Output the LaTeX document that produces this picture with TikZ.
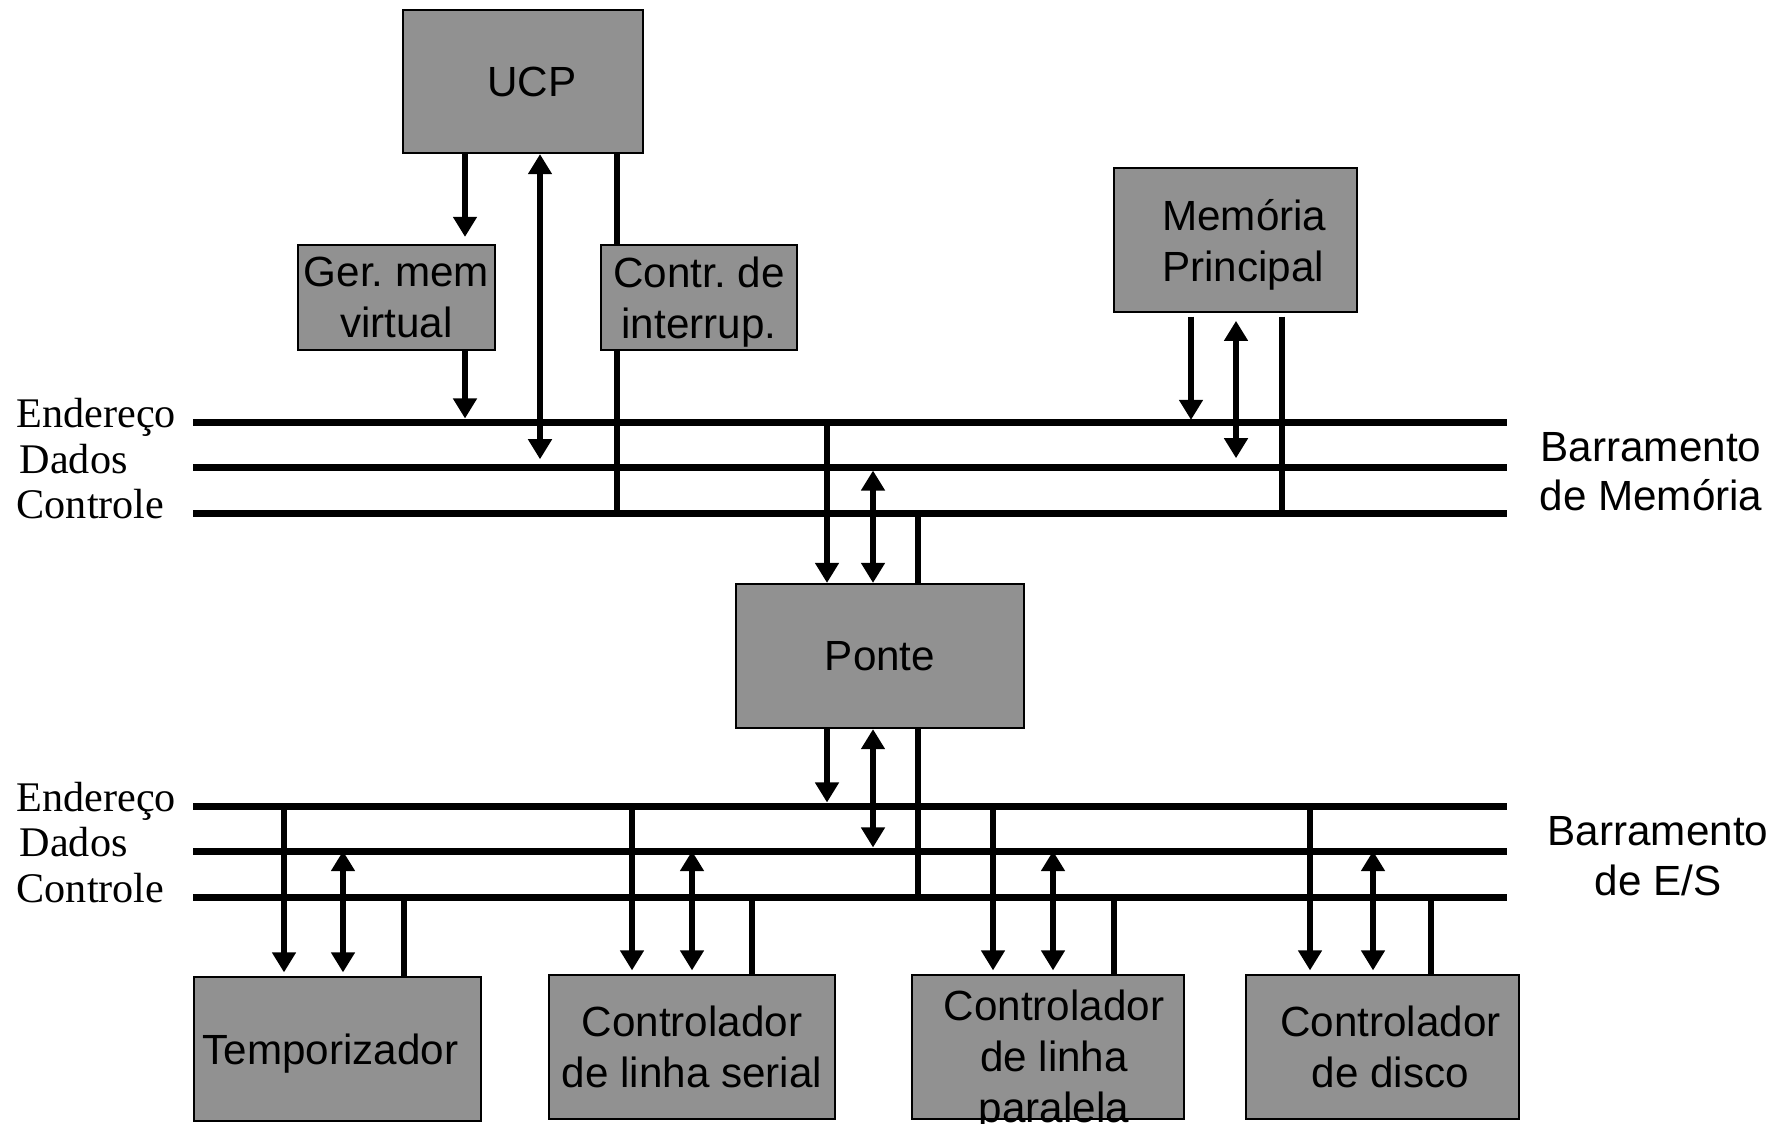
\documentclass[tikz,border=0pt]{standalone}
\usepackage{fontspec}
\setmainfont{Liberation Sans}
\newfontfamily\busfont{Liberation Serif}
\usepackage{tikz}
\usetikzlibrary{arrows.meta,positioning}
\definecolor{boxgray}{RGB}{145,145,145}
\frenchspacing

\begin{document}
\begin{tikzpicture}[x=0.01cm, y=-0.01cm,
    pc block/.style={draw, line width=0.6pt, fill=boxgray, rectangle, inner sep=0pt, text depth=0pt, align=center, font=\fontsize{12}{14.5}\selectfont},
    bus line/.style={line width=2pt},
    sig/.style={line width=1.6pt},
    bus label/.style={anchor=base west, inner sep=0pt, font=\busfont\fontsize{12}{14.5}\selectfont},
    bus name/.style={anchor=north, inner sep=0pt, align=center, font=\fontsize{12}{14}\selectfont},
    >={Triangle[length=5.7pt,width=6.5pt]}]

    \useasboundingbox (0,0) rectangle (1792,1123);

    % blocks
    \node[pc block, minimum width=2.4cm, minimum height=1.43cm] (ucp) at (523,81.5) {\hspace*{5pt}UCP};
    \node[pc block, minimum width=1.97cm, minimum height=1.05cm] (ger) at (396.5,297.5) {Ger. mem\\virtual};
    \node[pc block, minimum width=1.96cm, minimum height=1.05cm] (intr) at (699,297.5) {Contr. de\\interrup.};
    \node[pc block, minimum width=2.43cm, minimum height=1.44cm, align=left] (mem) at (1235.5,240) {\hspace*{5pt}Memória\\\hspace*{5pt}Principal};
    \node[pc block, minimum width=2.88cm, minimum height=1.44cm] (ponte) at (880,656) {Ponte};
    \node[pc block, minimum width=2.87cm, minimum height=1.44cm] (temp) at (337.5,1049) {Temporizador\hspace*{4pt}};
    \node[pc block, minimum width=2.86cm, minimum height=1.44cm] (serial) at (692,1047) {Controlador\\de linha serial};
    \node[pc block, minimum width=2.72cm, minimum height=1.44cm] (par) at (1048,1047) {};
    \node[anchor=north, inner sep=0pt, align=center, font=\fontsize{12}{14.5}\selectfont] (partxt) at (1054,989) {Controlador\\de linha\\paralela};
    \node[pc block, minimum width=2.73cm, minimum height=1.44cm] (disco) at (1382.5,1047) {\hspace*{4.5pt}Controlador\\\hspace*{4.5pt}de disco};

    % buses
    \coordinate (mA) at (193,422);  \coordinate (mAend) at (1507,422);
    \coordinate (mD) at (193,467);  \coordinate (mDend) at (1507,467);
    \coordinate (mC) at (193,513);  \coordinate (mCend) at (1507,513);
    \coordinate (iA) at (193,806);  \coordinate (iAend) at (1507,806);
    \coordinate (iD) at (193,851);  \coordinate (iDend) at (1507,851);
    \coordinate (iC) at (193,897);  \coordinate (iCend) at (1507,897);

    \draw[bus line] (mA) -- (mAend);
    \draw[bus line] (mD) -- (mDend);
    \draw[bus line] (mC) -- (mCend);
    \draw[bus line] (iA) -- (iAend);
    \draw[bus line] (iD) -- (iDend);
    \draw[bus line] (iC) -- (iCend);

    \node[bus label] (mAlbl) at (16,427) {Endereço};
    \node[bus label] (mDlbl) at (19,473) {Dados};
    \node[bus label] (mClbl) at (16,518) {Controle};
    \node[bus label] (iAlbl) at (16,811) {Endereço};
    \node[bus label] (iDlbl) at (19,856) {Dados};
    \node[bus label] (iClbl) at (16,902) {Controle};

    \node[bus name] (mbus) at (1651,432) {Barramento\\de Memória};
    \node[bus name] (iobus) at (1658,816) {Barramento\\de E/S};

    % line positions
    \coordinate (ucpA) at (465,0);  \coordinate (ucpD) at (540,0);  \coordinate (ucpC) at (617,0);
    \coordinate (memA) at (1191,0); \coordinate (memD) at (1236,0); \coordinate (memC) at (1282,0);
    \coordinate (pA) at (827,0);    \coordinate (pD) at (873,0);    \coordinate (pC) at (918,0);
    \coordinate (tA) at (284,0);    \coordinate (tD) at (343,0);    \coordinate (tC) at (404,0);
    \coordinate (sA) at (632,0);    \coordinate (sD) at (692,0);    \coordinate (sC) at (752,0);
    \coordinate (lA) at (993,0);    \coordinate (lD) at (1053,0);   \coordinate (lC) at (1114,0);
    \coordinate (dA) at (1310,0);   \coordinate (dD) at (1373,0);   \coordinate (dC) at (1431,0);

    % UCP
    \draw[sig, ->, shorten >=2pt] (ucpA |- ucp.south) -- (ucpA |- ger.north);
    \draw[sig, ->, shorten >=1pt] (ucpA |- ger.south) -- (ucpA |- mA);
    \draw[sig, <->, shorten >=2.2pt] (ucpD |- ucp.south) -- (ucpD |- mD);
    \draw[sig] (ucpC |- ucp.south) -- (ucpC |- intr.north);
    \draw[sig] (ucpC |- intr.south) -- (ucpC |- mC);

    % memoria
    \draw[sig, ->, shorten <=1pt, shorten >=0.6pt] (memA |- mem.south) -- (memA |- mA);
    \draw[sig, <->, shorten <=2.2pt, shorten >=2.5pt] (memD |- mem.south) -- (memD |- mD);
    \draw[sig, shorten <=1pt] (memC |- mem.south) -- (memC |- mC);

    % ponte
    \draw[sig, ->] (pA |- mA) -- (pA |- ponte.north);
    \draw[sig, <->, shorten <=1pt] (pD |- mD) -- (pD |- ponte.north);
    \draw[sig] (pC |- mC) -- (pC |- ponte.north);
    \draw[sig, ->, shorten >=1pt] (pA |- ponte.south) -- (pA |- iA);
    \draw[sig, <->, shorten >=1pt] (pD |- ponte.south) -- (pD |- iD);
    \draw[sig] (pC |- ponte.south) -- (pC |- iC);

    % E/S
    \draw[sig, ->, shorten >=1pt] (tA |- iA) -- (tA |- temp.north);
    \draw[sig, <->, shorten >=1pt] (tD |- iD) -- (tD |- temp.north);
    \draw[sig] (tC |- iC) -- (tC |- temp.north);

    \draw[sig, ->, shorten >=1pt] (sA |- iA) -- (sA |- serial.north);
    \draw[sig, <->, shorten >=1pt] (sD |- iD) -- (sD |- serial.north);
    \draw[sig] (sC |- iC) -- (sC |- serial.north);

    \draw[sig, ->, shorten >=1pt] (lA |- iA) -- (lA |- par.north);
    \draw[sig, <->, shorten >=1pt] (lD |- iD) -- (lD |- par.north);
    \draw[sig] (lC |- iC) -- (lC |- par.north);

    \draw[sig, ->, shorten >=1pt] (dA |- iA) -- (dA |- disco.north);
    \draw[sig, <->, shorten >=1pt] (dD |- iD) -- (dD |- disco.north);
    \draw[sig] (dC |- iC) -- (dC |- disco.north);

\end{tikzpicture}
\end{document}
